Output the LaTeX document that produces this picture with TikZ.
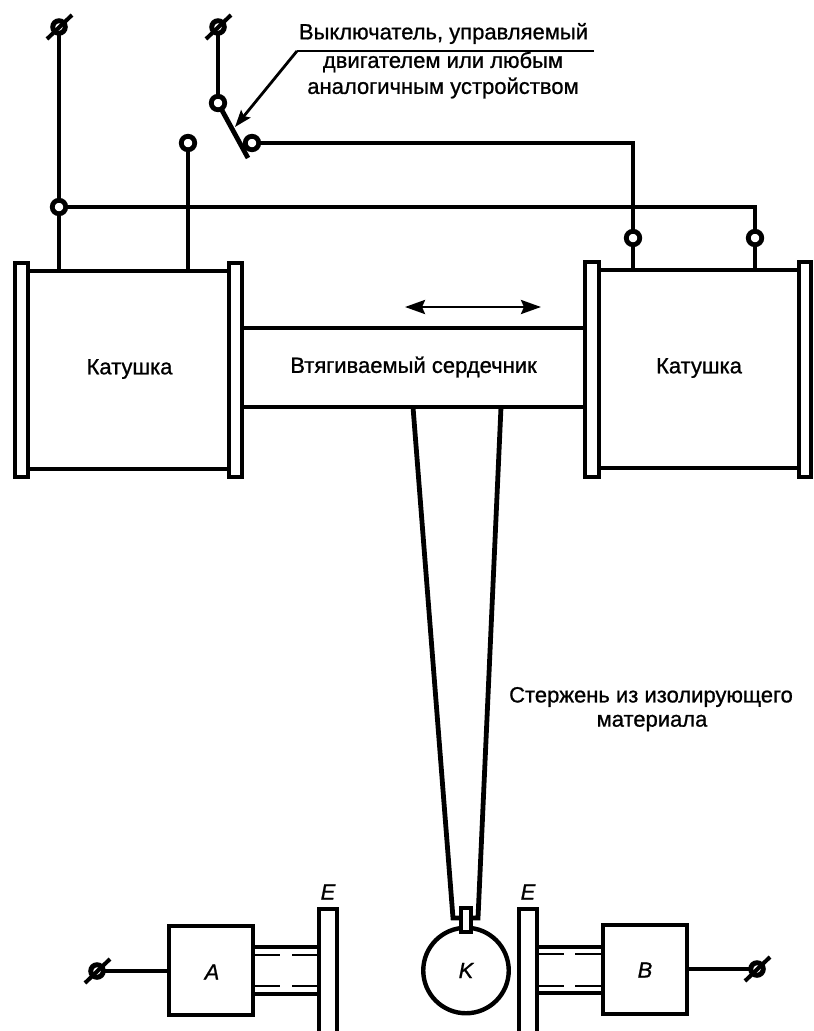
\documentclass[tikz,border=0pt]{standalone}
\usepackage{fontspec}
\setmainfont[FakeBold=0.9]{Liberation Sans}
\usetikzlibrary{arrows.meta,calc}
\tikzset{
  x=1pt,y=-1pt,
  wire/.style={line width=4.8pt,line cap=butt},
  thinwire/.style={line width=4pt},
  leader/.style={line width=2.8pt},
  dashwire/.style={line width=2.8pt},
  term/.style={circle,draw,fill=white,line width=4.8pt,minimum size=13.5pt,inner sep=0pt,outer sep=0pt},
  sterm/.style={circle,draw,line width=5pt,minimum size=12.5pt,inner sep=0pt,outer sep=0pt},
  flange/.style={rectangle,draw,fill=white,line width=4.8pt,inner sep=0pt,outer sep=0pt},
  blockbox/.style={rectangle,draw,line width=4.8pt,inner sep=0pt,outer sep=0pt,minimum width=84pt,minimum height=89pt},
  lab/.style={font=\fontsize{22}{26}\selectfont,inner sep=0pt,text=black},
  ital/.style={font=\fontsize{22}{26}\selectfont\itshape,inner sep=0pt,text=black},
  headtip/.tip={Stealth[length=20pt,width=14pt,inset=3pt]},
}
\begin{document}
\begin{tikzpicture}
\useasboundingbox (0,0) rectangle (814,1031);
% coil bodies
\draw[wire] (28,271) -- (229,271) (28,469) -- (229,469);
\draw[wire] (599,270) -- (799,270) (599,468) -- (799,468);
% coil flanges
\node[flange,minimum width=13pt,minimum height=214pt] (LF1) at (21.5,370) {};
\node[flange,minimum width=13pt,minimum height=214pt] (LF2) at (235.5,370) {};
\node[flange,minimum width=14pt,minimum height=215pt] (RF1) at (592,369.5) {};
\node[flange,minimum width=12pt,minimum height=215pt] (RF2) at (805,369.5) {};
% core
\draw[wire] (242,328) -- (585,328) (242,407) -- (585,407);
% coordinates for wiring
\coordinate (c1) at (59,271);
\coordinate (c2) at (188,271);
\coordinate (c3) at (633,270);
\coordinate (c4) at (755,270);
\coordinate (h3) at (633,143);
\coordinate (h4) at (755,207);
% wires
\node[sterm] (T1) at (59,27) {};
\node[sterm] (T2) at (218,27) {};
\node[term] (J1) at (59,207) {};
\node[term] (T3) at (188,143) {};
\node[term] (S1) at (218,103) {};
\node[term] (S2) at (252,143) {};
\node[term] (J3) at (633,238) {};
\node[term] (J4) at (755,238) {};
\draw[wire] (T1) -- (J1) (J1) -- (c1);
\draw[wire] (T3) -- (c2);
\draw[wire] (T2) -- (S1);
\draw[wire,line join=miter] (S2) -- (h3) -- (J3) (J3) -- (c3);
\draw[wire,line join=miter] (J1) -- (h4) -- (J4) (J4) -- (c4);
% slashes
\coordinate (t1a) at (47,39); \coordinate (t1b) at (72,15);
\coordinate (t2a) at (206,39); \coordinate (t2b) at (231,15);
\draw[thinwire] (t1a) -- (t1b) (t2a) -- (t2b);
% switch blade
\coordinate (bladeEnd) at (248,158);
\coordinate (bladeHit) at (235,127);
\draw[wire] (S1) -- (bladeEnd);
% leader
\coordinate (lrt) at (594,51);
\coordinate (lmd) at (297,51);
\draw[leader] (lrt) -- (lmd);
\draw[leader,-{Stealth[length=17pt,width=12pt,inset=3pt]}] (lmd) -- (bladeHit);
% top text
\node[lab] (t1) at (443.5,33.5) {Выключатель, управляемый};
\node[lab] (t2) at (443,62) {двигателем или любым};
\node[lab] (t3) at (443,88) {аналогичным устройством};
% movement arrow
\coordinate (ma) at (405,307);
\coordinate (mb) at (541,307);
\draw[leader,headtip-headtip] (ma) -- (mb);
% labels
\node[lab] (k1) at (129.5,369) {Катушка};
\node[lab] (k2) at (699,368) {Катушка};
\node[lab] (core) at (413.5,367) {Втягиваемый сердечник};
\node[lab] (rod1) at (651,697) {Стержень из изолирующего};
\node[lab] (rod2) at (652,723) {материала};
% rod
\node[circle,draw,line width=4.4pt,minimum size=85.5pt,inner sep=0pt,outer sep=0pt] (K) at (466,970.5) {};
\node[ital] at (K.center) {K};
\coordinate (r1) at (413,407);
\coordinate (r2) at (501,407);
\coordinate (r1b) at (453,918);
\coordinate (r2b) at (478,918);
\coordinate (r1c) at (461,918);
\coordinate (r2c) at (471,918);
\draw[wire,line join=miter] (r1) -- (r1b) -- (r1c);
\draw[wire,line join=miter] (r2) -- (r2b) -- (r2c);
\node[rectangle,draw,fill=white,line width=4.4pt,minimum width=10pt,minimum height=24pt,inner sep=0pt,outer sep=0pt] (stem) at (466,920) {};
% left lower
\node[blockbox] (A) at (211,970.5) {};
\node[ital] at (212,972) {A};
\node[blockbox] (B) at (645,969.5) {};
\node[ital] at (645,970) {B};
% E plates (open at the bottom)
\coordinate (e1a) at (319,1034); \coordinate (e1b) at (319,909);
\coordinate (e1c) at (337,909); \coordinate (e1d) at (337,1034);
\draw[wire,line join=miter] (e1a) -- (e1b) -- (e1c) -- (e1d);
\coordinate (e2a) at (519,1034); \coordinate (e2b) at (519,909);
\coordinate (e2c) at (537,909); \coordinate (e2d) at (537,1034);
\draw[wire,line join=miter] (e2a) -- (e2b) -- (e2c) -- (e2d);
\node[ital] (EL) at (328,892) {E};
\node[ital] (ER) at (528,892) {E};
% links A-E
\coordinate (a1) at (253,947); \coordinate (a2) at (319,947);
\coordinate (a3) at (253,994); \coordinate (a4) at (319,994);
\draw[wire] (a1) -- (a2) (a3) -- (a4);
\coordinate (ad1) at (255,955); \coordinate (ad2) at (280,955);
\coordinate (ad3) at (292,955); \coordinate (ad4) at (317,955);
\coordinate (ad5) at (255,986); \coordinate (ad6) at (280,986);
\coordinate (ad7) at (292,986); \coordinate (ad8) at (317,986);
\draw[dashwire] (ad1) -- (ad2) (ad3) -- (ad4) (ad5) -- (ad6) (ad7) -- (ad8);
% links B-E
\coordinate (b1) at (537,947); \coordinate (b2) at (603,947);
\coordinate (b3) at (537,993); \coordinate (b4) at (603,993);
\draw[wire] (b1) -- (b2) (b3) -- (b4);
\coordinate (bd1) at (539,954); \coordinate (bd2) at (564,954);
\coordinate (bd3) at (575,954); \coordinate (bd4) at (601,954);
\coordinate (bd5) at (539,986); \coordinate (bd6) at (564,986);
\coordinate (bd7) at (575,986); \coordinate (bd8) at (601,986);
\draw[dashwire] (bd1) -- (bd2) (bd3) -- (bd4) (bd5) -- (bd6) (bd7) -- (bd8);
% outer terminals
\node[sterm] (TA) at (97,971) {};
\node[sterm] (TB) at (757,969) {};
\draw[thinwire] (TA) -- (A.west |- TA);
\draw[thinwire] (B.east |- TB) -- (TB);
\coordinate (ta1) at (85,983); \coordinate (ta2) at (110,959);
\coordinate (tb1) at (745,981); \coordinate (tb2) at (770,957);
\draw[thinwire] (ta1) -- (ta2) (tb1) -- (tb2);
\end{tikzpicture}
\end{document}
